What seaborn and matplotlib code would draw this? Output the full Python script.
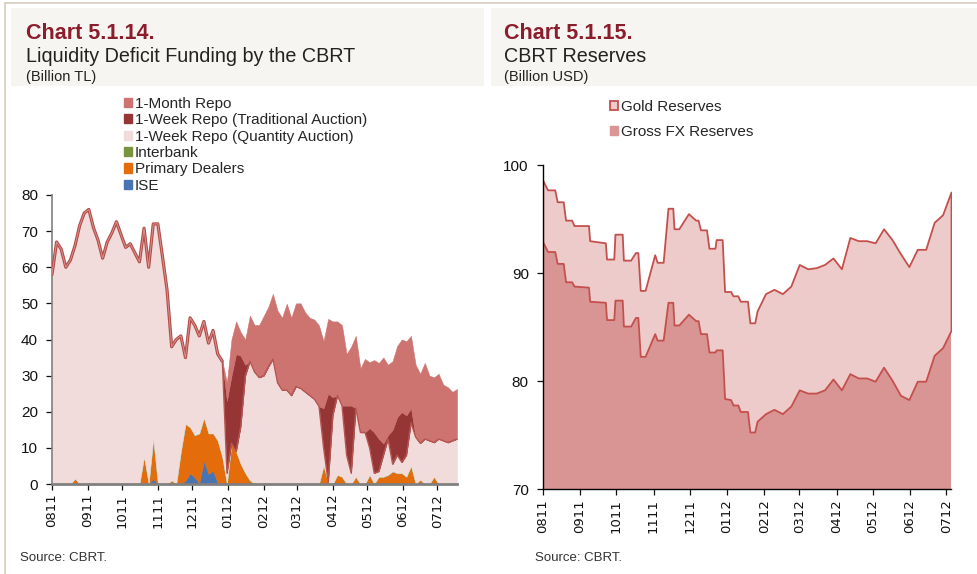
import numpy as np
import pandas as pd
import matplotlib
matplotlib.use("Agg")
import matplotlib.pyplot as plt
from matplotlib.patches import Patch, Rectangle
from matplotlib.lines import Line2D
import seaborn as sns

# Chart 5.1.14 - liquidity deficit funding (billion TL), one value every 4 days from 1 Aug 2011
funding_start = "2011-08-01"
ise = [0, 0, 0, 0, 0, 0, 0, 0, 0, 0,
       0, 0, 0, 0, 0, 0, 0, 0, 0, 0,
       0, 0, 1.5, 0, 0, 0, 0, 0, 0, 1,
       3, 1.8, 0.3, 6.5, 2.8, 3.7, 0.3, 0, 0, 0.3,
       0, 0, 0, 0, 0, 0, 0, 0, 0, 0,
       0, 0, 0, 0, 0, 0, 0, 0, 0, 0,
       0, 0, 0, 0, 0, 0, 0, 0, 0, 0,
       0, 0, 0, 0, 0, 0, 0, 0, 0, 0,
       0, 0, 0, 0, 0, 0, 0, 0, 0]
primary_dealers = [0, 0, 0, 0, 0, 1.5, 0, 0, 0, 0,
                   0, 0, 0, 0, 0, 0, 0, 0, 0, 0,
                   7.5, 0, 11, 0, 0, 0, 1, 0, 9, 15.6,
                   12.7, 11.7, 13.7, 11.5, 11.2, 10.3, 11.7, 7.4, 0, 11,
                   9, 5.5, 3, 1, 0, 0, 0, 0, 0, 0,
                   0, 0, 0, 0, 0, 0, 0, 0, 0, 5,
                   0.5, 0, 2.5, 2, 0, 0, 2, 0, 0, 2.5,
                   0, 2, 2, 2.5, 3.5, 3, 3, 2, 5, 0,
                   1.2, 0, 0, 2, 0, 0, 0, 0, 0]
interbank = [0, 0, 0, 0, 0, 0, 0, 0, 0, 0,
             0, 0, 0, 0, 0, 0, 0, 0, 0, 0,
             0, 0, 0, 0, 0, 0, 0, 0, 0, 0,
             0, 0, 0, 0.3, 0, 0, 0, 0, 0, 0,
             0, 0, 0, 0, 0, 0, 0, 0, 0, 0,
             0, 0, 0, 0, 0, 0, 0, 0, 0, 0,
             0, 0, 0, 0, 0, 0, 0, 0, 0, 0,
             0, 0, 0, 0, 0, 0, 0, 0, 0, 0,
             0, 0, 0, 0, 0, 0, 0, 0, 0]
week_quantity = [58, 67, 65, 60, 62, 64.5, 71.5, 75, 76, 71,
                 67.5, 62.5, 67, 69.5, 72.6, 69, 65.5, 66.5, 64, 61.5,
                 63.3, 60, 59.5, 72, 63, 53.7, 37, 40, 32, 18.4,
                 30.3, 30.5, 27, 26.7, 25, 28.5, 24, 26.6, 3, 0,
                 0, 10.5, 27, 33, 31, 29.5, 30, 32.5, 34.6, 28,
                 26, 26, 24.5, 27, 26.5, 25.5, 24.5, 23.5, 21.5, 5,
                 0, 19, 22, 19.7, 8, 3, 19, 14.3, 14.3, 7.5,
                 3, 1.5, 6, 10, 2, 5, 3, 6, 12, 13,
                 10.1, 12.5, 12, 9.5, 12.5, 12, 11.5, 12, 12.5]
week_traditional = [0, 0, 0, 0, 0, 0, 0, 0, 0, 0,
                    0, 0, 0, 0, 0, 0, 0, 0, 0, 0,
                    0, 0, 0, 0, 0, 0, 0, 0, 0, 0,
                    0, 0, 0, 0, 0, 0, 0, 0, 20, 18.7,
                    27, 19.5, 3, 0, 0, 0, 0, 0, 0, 0,
                    0, 0, 0, 0, 0, 0, 0, 0, 0, 11,
                    24.5, 5, 0, 0, 13.7, 18.7, 0, 0, 0, 5.5,
                    11.3, 9, 3.2, 1, 9.5, 10.5, 13.9, 11, 4, 0,
                    0, 0, 0, 0, 0, 0, 0, 0, 0]
month_repo = [0, 0, 0, 0, 0, 0, 0, 0, 0, 0,
              0, 0, 0, 0, 0, 0, 0, 0, 0, 0,
              0, 0, 0, 0, 0, 0, 0, 0, 0, 0,
              0, 0, 0, 0, 0, 0, 0, 0, 5, 10,
              9, 6.5, 7, 12.6, 13, 14.5, 16.5, 16.5, 18, 20,
              20, 23.9, 21.5, 23, 23.5, 22, 21.5, 22, 22.4, 18.5,
              20.7, 21, 20.5, 22.3, 14.3, 16.3, 20, 17.7, 20.3, 18.2,
              20, 21, 23.8, 19.5, 19, 19.7, 20.1, 20.5, 20, 20,
              19.2, 21, 18, 18, 18, 15.5, 15.3, 13.5, 13.8]

# Chart 5.1.15 - CBRT reserves (billion USD)
reserve_dates = ["2011-08-01", "2011-08-05", "2011-08-11", "2011-08-13", "2011-08-18",
                 "2011-08-20", "2011-08-25", "2011-08-27", "2011-09-08", "2011-09-09",
                 "2011-09-22", "2011-09-23", "2011-09-29", "2011-09-30", "2011-10-06",
                 "2011-10-07", "2011-10-13", "2011-10-17", "2011-10-19", "2011-10-21",
                 "2011-10-25", "2011-11-02", "2011-11-04", "2011-11-09", "2011-11-13",
                 "2011-11-17", "2011-11-18", "2011-11-22", "2011-11-30", "2011-12-06",
                 "2011-12-08", "2011-12-10", "2011-12-15", "2011-12-17", "2011-12-22",
                 "2011-12-23", "2011-12-28", "2011-12-30", "2012-01-04", "2012-01-06",
                 "2012-01-10", "2012-01-12", "2012-01-18", "2012-01-20", "2012-01-24",
                 "2012-01-26", "2012-02-02", "2012-02-09", "2012-02-16", "2012-02-23",
                 "2012-03-01", "2012-03-08", "2012-03-15", "2012-03-22", "2012-03-29",
                 "2012-04-05", "2012-04-12", "2012-04-19", "2012-04-26", "2012-05-03",
                 "2012-05-10", "2012-05-17", "2012-05-24", "2012-05-31", "2012-06-07",
                 "2012-06-14", "2012-06-21", "2012-06-28", "2012-07-05"]
gross_fx = [92.9, 92.0, 92.0, 90.9, 90.9, 89.2, 89.2, 88.8, 88.7, 87.4,
            87.3, 85.7, 85.7, 87.5, 87.5, 85.1, 85.1, 85.9, 85.9, 82.3,
            82.3, 84.4, 83.8, 83.8, 87.3, 87.3, 85.2, 85.2, 86.2, 85.6,
            85.6, 84.4, 84.4, 82.7, 82.7, 82.9, 82.9, 78.4, 78.3, 77.8,
            77.8, 77.2, 77.2, 75.3, 75.3, 76.3, 77.0, 77.4, 77.0, 77.7,
            79.2, 78.9, 78.9, 79.2, 80.2, 79.2, 80.7, 80.3, 80.3, 80.0,
            81.3, 80.1, 78.7, 78.3, 80.0, 80.0, 82.4, 83.1, 84.7]
gold = [5.7, 5.7, 5.7, 5.7, 5.7, 5.7, 5.7, 5.6, 5.7, 5.6,
        5.5, 5.6, 5.6, 6.1, 6.1, 6.1, 6.1, 6.0, 6.0, 6.1,
        6.1, 7.3, 7.2, 7.2, 8.7, 8.7, 8.9, 8.9, 9.3, 9.3,
        9.3, 9.6, 9.6, 9.6, 9.6, 10.2, 10.2, 9.9, 10.0, 10.1,
        10.1, 10.2, 10.2, 10.1, 10.1, 10.2, 11.1, 11.1, 11.1, 11.1,
        11.6, 11.5, 11.6, 11.6, 11.2, 11.2, 12.6, 12.7, 12.7, 12.8,
        12.8, 13.0, 13.1, 12.3, 12.2, 12.2, 12.3, 12.3, 12.8]

month_ticks = pd.date_range("2011-08-01", "2012-07-01", freq="MS")
tick_labels = [d.strftime("%m%y") for d in month_ticks]

sns.set_style("ticks")
plt.rcParams["font.family"] = ["Liberation Sans", "DejaVu Sans"]

W, H = 978, 574
fig = plt.figure(figsize=(W / 100, H / 100), dpi=100)
fig.patch.set_facecolor("white")


def box(x0, y0, x1, y1, color):
    fig.add_artist(Rectangle((x0 / W, 1 - y1 / H), (x1 - x0) / W, (y1 - y0) / H,
                             transform=fig.transFigure, facecolor=color,
                             edgecolor="none", zorder=0))


# frame and title boxes
fig.add_artist(Line2D([5 / W, 1], [1 - 3 / H, 1 - 3 / H], color="#d5cdbd", lw=1.2))
fig.add_artist(Line2D([5 / W, 5 / W], [0, 1 - 3 / H], color="#d5cdbd", lw=1.2))
box(11, 8, 484, 86, "#f6f5f1")
box(491, 8, 978, 86, "#f6f5f1")

title_red = "#8c1d2d"
for x0, num, sub, unit in [(26, "Chart 5.1.14.", "Liquidity Deficit Funding by the CBRT", "(Billion TL)"),
                           (504, "Chart 5.1.15.", "CBRT Reserves", "(Billion USD)")]:
    fig.text(x0 / W, 1 - 39 / H, num, color=title_red, fontsize=15.5, fontweight="bold", va="baseline")
    fig.text(x0 / W, 1 - 62 / H, sub, color="#222222", fontsize=14.2, va="baseline")
    fig.text(x0 / W, 1 - 81 / H, unit, color="#222222", fontsize=10.5, va="baseline")

fig.text(20 / W, 1 - 558 / H, "Source: CBRT.", fontsize=9.5, va="center", color="#333333")
fig.text(535 / W, 1 - 558 / H, "Source: CBRT.", fontsize=9.5, va="center", color="#333333")

# ---------- left chart ----------
ax1 = fig.add_axes([52 / W, 1 - 484 / H, 405 / W, 289 / H])
dates = pd.date_range(funding_start, periods=len(week_quantity), freq="4D")
colors = {"1-Month Repo": "#cd7370",
          "1-Week Repo (Traditional Auction)": "#963535",
          "1-Week Repo (Quantity Auction)": "#f2dcdb",
          "Interbank": "#78953d",
          "Primary Dealers": "#e46c0a",
          "ISE": "#4775b3"}
ax1.stackplot(dates, ise, primary_dealers, interbank, week_quantity, week_traditional, month_repo,
              colors=[colors["ISE"], colors["Primary Dealers"], colors["Interbank"],
                      colors["1-Week Repo (Quantity Auction)"],
                      colors["1-Week Repo (Traditional Auction)"], colors["1-Month Repo"]],
              linewidth=0.4, edgecolor="face")

pink_top = np.array(ise) + np.array(primary_dealers) + np.array(interbank) + np.array(week_quantity)
early = np.where(np.array(month_repo) == 0, pink_top, np.nan)
ax1.plot(dates, early, color="#b34f4b", lw=2.3, zorder=3)
ax1.plot(dates, early, color="#dc9491", lw=0.6, zorder=4)
sns.lineplot(x=dates, y=pink_top, ax=ax1, color="#b65551", lw=0.9, zorder=3)

ax1.set_xlim(dates[0], dates[-1])
ax1.set_ylim(0, 80)
ax1.set_yticks(range(0, 81, 10))
ax1.set_xticks(month_ticks)
ax1.set_xticklabels(tick_labels)
ax1.set_xlabel("")
ax1.set_ylabel("")
ax1.set_facecolor("none")
for s in ["top", "right"]:
    ax1.spines[s].set_visible(False)
ax1.spines["left"].set_color("#808080")
ax1.spines["left"].set_linewidth(1.2)
ax1.spines["bottom"].set_color("#808080")
ax1.spines["bottom"].set_linewidth(2.0)
ax1.spines["bottom"].set_zorder(5)

left_handles = [Patch(facecolor=c, edgecolor=c) for c in colors.values()]
fig.legend(left_handles, list(colors.keys()), loc="upper left",
           bbox_to_anchor=(116 / W, 1 - 89 / H), frameon=False, fontsize=11,
           handlelength=0.55, handleheight=0.55, handletextpad=0.2,
           labelspacing=0.16, borderpad=0)

# ---------- right chart ----------
ax2 = fig.add_axes([542.7 / W, 1 - 489.3 / H, 408.3 / W, 324.3 / H])
rdates = pd.to_datetime(reserve_dates)
fx = np.array(gross_fx)
total = fx + np.array(gold)
ax2.fill_between(rdates, 0, fx, facecolor="#d99594", edgecolor="none", zorder=1)
ax2.fill_between(rdates, fx, total, facecolor="#eecbcb", edgecolor="#c4504d", lw=1.3, zorder=2)
ax2.set_xlim(rdates[0], rdates[-1])
ax2.set_ylim(70, 100)
ax2.set_yticks([70, 80, 90, 100])
ax2.set_xticks(month_ticks)
ax2.set_xticklabels(tick_labels)
ax2.set_facecolor("none")
for s in ["top", "right"]:
    ax2.spines[s].set_visible(False)
for s in ["left", "bottom"]:
    ax2.spines[s].set_color("black")
    ax2.spines[s].set_linewidth(1.0)
    ax2.spines[s].set_zorder(5)

right_handles = [Patch(facecolor="#eecbcb", edgecolor="#c4504d", lw=1.3),
                 Patch(facecolor="#d99594", edgecolor="#d99594")]
fig.legend(right_handles, ["Gold Reserves", "Gross FX Reserves"], loc="upper left",
           bbox_to_anchor=(602 / W, 1 - 92 / H), frameon=False, fontsize=11,
           handlelength=0.55, handleheight=0.55, handletextpad=0.2,
           labelspacing=0.75, borderpad=0)

for ax in (ax1, ax2):
    ax.tick_params(axis="y", direction="out", length=4, width=0.9, pad=6, labelsize=11,
                   colors="#111111")
    ax.tick_params(axis="x", direction="out", length=4, width=0.9, pad=3, colors="#111111")
    for lab in ax.get_xticklabels():
        lab.set_rotation(90)
        lab.set_fontfamily("DejaVu Sans")
        lab.set_fontsize(9.5)
        lab.set_va("top")
        lab.set_ha("center")

fig.savefig("out.png", dpi=100)
